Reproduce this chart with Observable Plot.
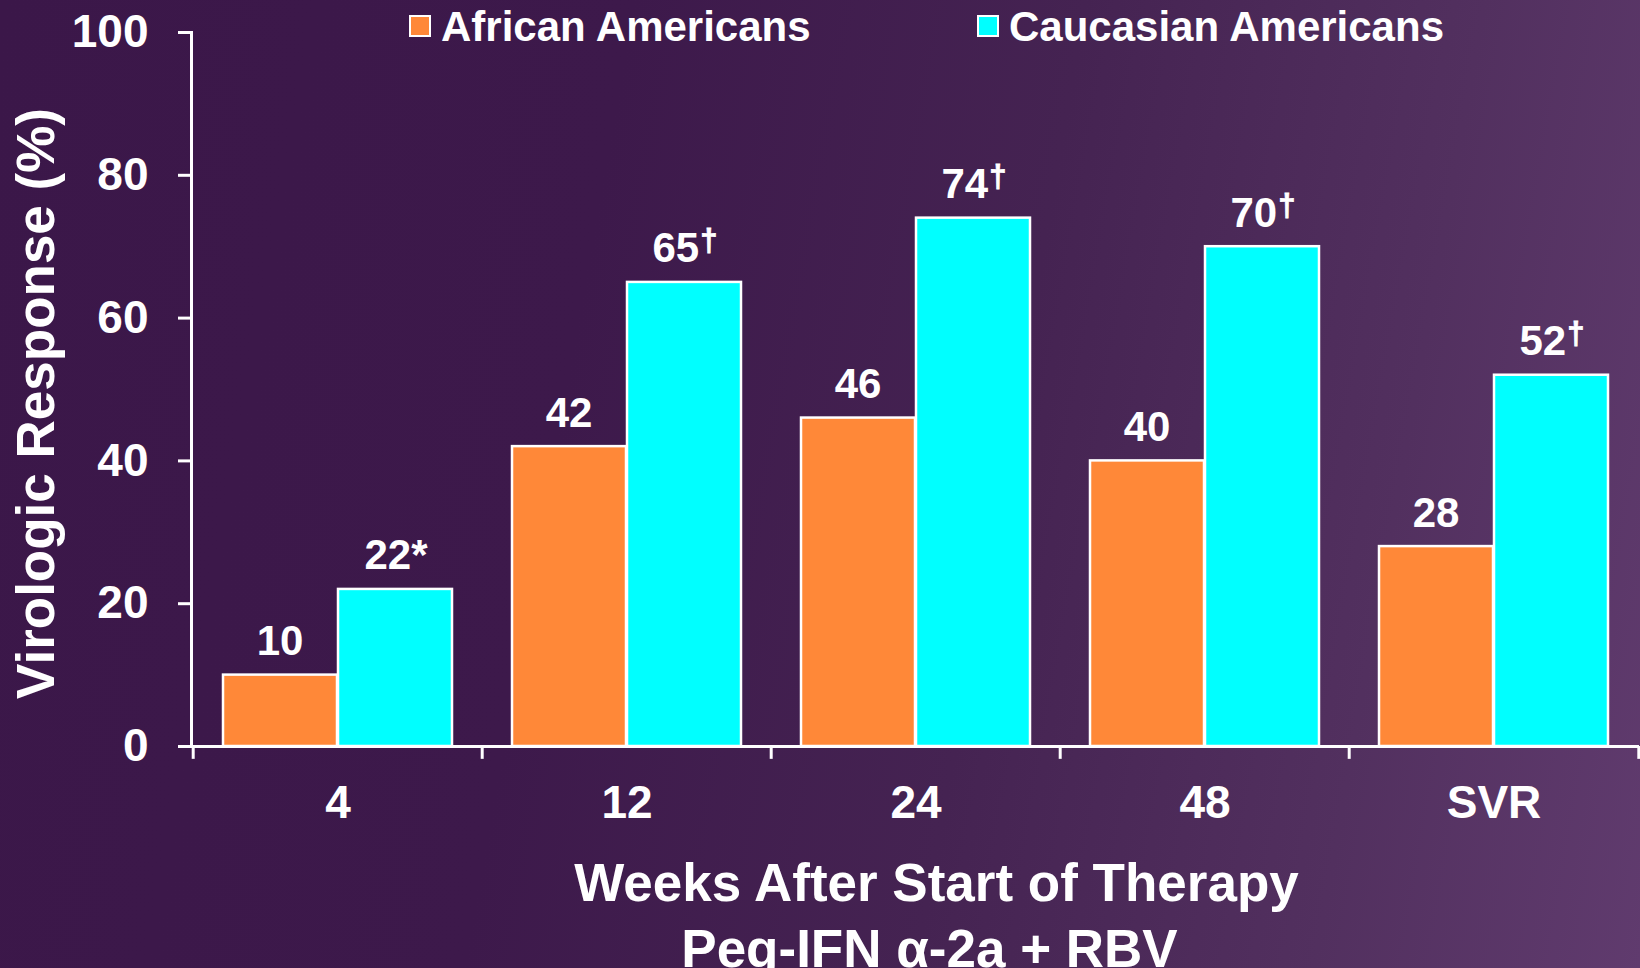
<!DOCTYPE html>
<html>
<head>
<meta charset="utf-8">
<script src="https://cdn.jsdelivr.net/npm/d3@7"></script>
<script src="https://cdn.jsdelivr.net/npm/@observablehq/plot@0.6"></script>
<style>
  html, body { margin: 0; padding: 0; width: 1640px; height: 968px; overflow: hidden; }
  body {
    background: linear-gradient(100deg, #3b1749 0%, #3d194b 35%, #452352 60%, #52305f 82%, #603b6e 100%);
    font-family: "Liberation Sans", Arial, sans-serif;
  }
  #wrap { position: relative; width: 1640px; height: 968px; }
  #wrap svg { position: absolute; left: 0; top: 0; }
  .leg { position: absolute; top: 6px; font: bold 42px/42px "Liberation Sans", Arial, sans-serif; color: #fff; white-space: nowrap; }
  .sw { position: absolute; top: 15px; width: 22px; height: 22px; box-sizing: border-box; border: 2px solid #fff; }
</style>
</head>
<body>
<div id="wrap"></div>
<script>
const weeks = ["4", "12", "24", "48", "SVR"];
const african = [10, 42, 46, 40, 28];
const caucasian = [22, 65, 74, 70, 52];
const caucasianMarks = ["*", "\u2020", "\u2020", "\u2020", "\u2020"];
const yTicks = [0, 20, 40, 60, 80, 100];
const seriesNames = ["African Americans", "Caucasian Americans"];
const seriesColors = ["#ff8838", "#00ffff"];
const yTitle = "Virologic Response (%)";
const xTitle1 = "Weeks After Start of Therapy";
const xTitle2 = "Peg-IFN \u03b1-2a + RBV";

const rows = weeks.map((w, i) => ({
  week: w,
  aa: african[i],
  ca: caucasian[i],
  caLabel: String(caucasian[i]) + caucasianMarks[i]
}));

const font = "bold";
const white = "#ffffff";

function superDagger(index, scales, values, dimensions, context, next) {
  const g = next(index, scales, values, dimensions, context);
  d3.select(g).selectAll("text").each(function () {
    const t = this.textContent;
    if (t.endsWith("\u2020")) {
      this.textContent = t.slice(0, -1);
      d3.select(this).append("tspan")
        .attr("font-size", 31)
        .attr("dy", -11)
        .attr("dx", 1)
        .attr("stroke", white)
        .attr("stroke-width", 0.8)
        .text("\u2020");
    }
  });
  return g;
}

const chart = Plot.plot({
  width: 1640,
  height: 968,
  marginLeft: 191,
  marginRight: 1,
  marginTop: 32,
  marginBottom: 222,
  style: { background: "transparent", fontFamily: "'Liberation Sans', Arial, sans-serif", overflow: "visible" },
  x: { domain: weeks, padding: 0, label: null },
  y: { domain: [0, 100], label: null },
  marks: [
    Plot.barY(rows, { x: "week", y: "aa", fill: seriesColors[0], stroke: white, strokeWidth: 2.5, insetLeft: 30, insetRight: 145 }),
    Plot.barY(rows, { x: "week", y: "ca", fill: seriesColors[1], stroke: white, strokeWidth: 2.5, insetLeft: 145, insetRight: 30 }),
    Plot.text(rows, { x: "week", y: "aa", text: d => String(d.aa), dx: -58, dy: -20, lineAnchor: "bottom", fill: white, fontSize: 42, fontWeight: font }),
    Plot.text(rows, { x: "week", y: "ca", text: "caLabel", dx: 58, dy: -20, lineAnchor: "bottom", fill: white, fontSize: 42, fontWeight: font, render: superDagger }),
    Plot.frame({ anchor: "left", stroke: white, strokeWidth: 3 }),
    Plot.ruleY([0], { stroke: white, strokeWidth: 3 }),
    Plot.ruleX(weeks, { x: d => d, dx: -144.8, y1: 0, y2: -1.8, stroke: white, strokeWidth: 3 }),
    Plot.ruleX(weeks.slice(-1), { x: d => d, dx: 144.8, y1: 0, y2: -1.8, stroke: white, strokeWidth: 3 }),
    Plot.axisY({ ticks: yTicks, tickSize: 13, tickPadding: 30, fontSize: 46, fontWeight: font, stroke: white, strokeWidth: 3, fill: white, label: null }),
    Plot.axisX({ tickSize: 0, tickPadding: 39, fontSize: 46, fontWeight: font, fill: white, label: null }),
    Plot.text([yTitle], { frameAnchor: "left", textAnchor: "middle", text: d => d, rotate: -90, dx: -154, dy: 14, fill: white, fontSize: 53, fontWeight: font }),
    Plot.text([xTitle1], { frameAnchor: "bottom", text: d => d, dx: 21, dy: 154, lineAnchor: "bottom", fill: white, fontSize: 53, fontWeight: font }),
    Plot.text([xTitle2], { frameAnchor: "bottom", text: d => d, dx: 14, dy: 220, lineAnchor: "bottom", fill: white, fontSize: 53, fontWeight: font })
  ]
});

const wrap = document.getElementById("wrap");
wrap.appendChild(chart);

// Legend overlay
const legendX = [409, 977];
seriesNames.forEach((name, i) => {
  const sw = document.createElement("div");
  sw.className = "sw";
  sw.style.left = legendX[i] + "px";
  sw.style.background = seriesColors[i];
  wrap.appendChild(sw);
  const lab = document.createElement("div");
  lab.className = "leg";
  lab.style.left = (legendX[i] + 32) + "px";
  lab.textContent = name;
  wrap.appendChild(lab);
});
</script>
</body>
</html>
